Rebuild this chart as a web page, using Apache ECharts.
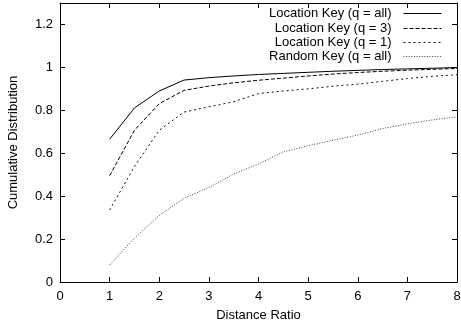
<!DOCTYPE html>
<html><head><meta charset="utf-8">
<script src="https://cdn.jsdelivr.net/npm/echarts@6/dist/echarts.min.js"></script>
<style>html,body{margin:0;padding:0;background:#fff}#c{width:461px;height:329px}</style>
</head><body><div id="c"></div>
<script>
const xValues = [1, 1.5, 2, 2.5, 3, 3.5, 4, 4.5, 5, 5.5, 6, 6.5, 7, 7.5, 8];
const locAll = [0.665, 0.811, 0.89, 0.941, 0.952, 0.96, 0.967, 0.972, 0.977, 0.982, 0.986, 0.99, 0.993, 0.996, 0.999];
const loc3 = [0.495, 0.707, 0.831, 0.893, 0.913, 0.928, 0.94, 0.95, 0.96, 0.969, 0.976, 0.982, 0.987, 0.991, 0.995];
const loc1 = [0.335, 0.538, 0.707, 0.792, 0.816, 0.84, 0.878, 0.89, 0.9, 0.912, 0.922, 0.935, 0.948, 0.958, 0.966];
const randAll = [0.079, 0.205, 0.31, 0.39, 0.44, 0.503, 0.55, 0.606, 0.635, 0.66, 0.685, 0.715, 0.737, 0.755, 0.77];
const seriesNames = ['Location Key (q = all)', 'Location Key (q = 3)', 'Location Key (q = 1)', 'Random Key (q = all)'];
const xTicks = [0, 1, 2, 3, 4, 5, 6, 7, 8];
const yTickStep = 0.2;

const font = 'Liberation Sans, Arial, Helvetica, sans-serif';
const pair = arr => xValues.map((x, i) => [x, arr[i]]);
const styles = [
  {color: '#000', type: 'solid', width: 1},
  {color: '#000', type: [4, 2], width: 1},
  {color: '#111', type: [2, 3], width: 1},
  {color: '#444', type: [1, 1.6], width: 1}
];
const datas = [locAll, loc3, loc1, randAll];
const rowTops = [7, 22, 36, 50];

const chart = echarts.init(document.getElementById('c'));
const axisCommon = {
  axisLine: {show: true, onZero: false, lineStyle: {color: '#000', width: 1}},
  axisTick: {show: true, inside: true, length: 5, lineStyle: {color: '#000', width: 1}},
  splitLine: {show: false}
};
chart.setOption({
  animation: false,
  backgroundColor: '#fff',
  textStyle: {fontFamily: font},
  grid: {left: 60, right: 4, top: 3, bottom: 47, outerBoundsMode: 'none', containLabel: false},
  legend: seriesNames.map((n, i) => ({
    data: [n], orient: 'vertical', right: 19, top: rowTops[i], padding: 0,
    align: 'right', itemWidth: 38, itemHeight: 14, selectedMode: false,
    itemStyle: {opacity: 0},
    lineStyle: {width: 1},
    textStyle: {fontFamily: font, fontSize: 13, color: '#000', padding: [0, 7, 0, 0]}
  })),
  xAxis: [
    Object.assign({}, axisCommon, {
      type: 'value', min: xTicks[0], max: xTicks[xTicks.length - 1], interval: 1, position: 'bottom',
      name: 'Distance Ratio', nameLocation: 'middle', nameGap: 27,
      nameTextStyle: {fontFamily: font, fontSize: 13, color: '#000'},
      axisLabel: {fontFamily: font, fontSize: 13, color: '#000', margin: 8}
    }),
    Object.assign({}, axisCommon, {
      type: 'value', min: xTicks[0], max: xTicks[xTicks.length - 1], interval: 1, position: 'top',
      axisLabel: {show: false}
    })
  ],
  yAxis: [
    Object.assign({}, axisCommon, {
      type: 'value', min: 0, max: 1.3, interval: yTickStep, position: 'left',
      name: 'Cumulative Distribution', nameLocation: 'middle', nameGap: 40,
      nameTextStyle: {fontFamily: font, fontSize: 13, color: '#000'},
      axisLabel: {fontFamily: font, fontSize: 13, color: '#000', margin: 7, showMaxLabel: false,
        formatter: v => String(Math.round(v * 10) / 10)}
    }),
    Object.assign({}, axisCommon, {
      type: 'value', min: 0, max: 1.3, interval: yTickStep, position: 'right',
      axisLabel: {show: false}
    })
  ],
  series: seriesNames.map((n, i) => ({
    name: n, type: 'line', data: pair(datas[i]), symbol: 'none', showSymbol: false,
    xAxisIndex: 0, yAxisIndex: 0,
    lineStyle: styles[i], itemStyle: {color: styles[i].color}
  }))
});
</script></body></html>
